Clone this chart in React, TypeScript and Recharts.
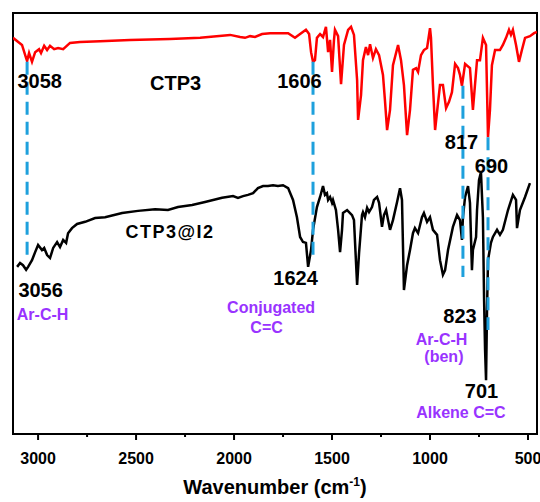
import { LineChart, Line, XAxis, YAxis, ReferenceLine, ReferenceArea, ReferenceDot } from "recharts"

const FONT = "Arial, 'Liberation Sans', sans-serif"
const PURPLE = "#9933FF"
const GUIDE = "#1EA0DC"

// CTP3 (red, upper trace)
const ctp3Wavenumber = [
  3128, 3082, 3061, 3056, 3046, 3031, 3015, 2995, 2985, 2969, 2954, 2939, 2918, 2898, 2872, 2837, 2786, 2684,
  2531, 2327, 2173, 2020, 1969, 1944, 1918, 1893, 1857, 1816, 1765, 1724, 1689, 1663, 1633, 1617, 1607, 1597,
  1587, 1577, 1561, 1546, 1531, 1520, 1510, 1500, 1490, 1485, 1469, 1454, 1439, 1418, 1403, 1388, 1372, 1367,
  1352, 1342, 1327, 1316, 1306, 1291, 1276, 1260, 1240, 1230, 1219, 1204, 1189, 1163, 1148, 1133, 1117, 1102,
  1087, 1071, 1061, 1046, 1031, 1015, 1000, 995, 985, 974, 964, 949, 934, 918, 903, 888, 872, 857, 847, 837,
  821, 796, 781, 760, 745, 730, 714, 704, 694, 684, 668, 643, 628, 612, 597, 587, 577, 561, 546, 531, 515, 490,
  469, 454,
]
const ctp3Transmittance = [
  94.1, 92.4, 89.3, 88.6, 90.5, 88.4, 90.7, 91.4, 90.5, 92.2, 91.2, 92.2, 91.4, 91.7, 91.4, 92.9, 93.1, 93.3,
  93.6, 93.8, 94.1, 94.8, 94.3, 94.1, 94.5, 94.3, 95.0, 95.2, 95.2, 95.2, 94.1, 95.0, 96.0, 95.0, 90.7, 88.4,
  88.8, 94.1, 95.0, 94.3, 96.7, 90.7, 93.6, 86.0, 93.6, 96.0, 94.5, 83.1, 92.4, 96.0, 96.7, 94.8, 84.1, 74.6,
  80.5, 88.8, 91.9, 90.0, 92.6, 89.3, 91.4, 90.0, 85.3, 79.3, 72.2, 77.0, 87.6, 92.4, 88.8, 82.9, 71.0, 77.0,
  86.5, 86.9, 86.0, 90.0, 91.2, 91.7, 96.4, 94.1, 82.9, 72.2, 76.5, 82.9, 82.9, 77.4, 78.9, 81.2, 87.9, 86.9,
  85.3, 82.7, 87.9, 86.9, 77.0, 88.8, 88.8, 94.1, 92.4, 70.5, 77.0, 87.6, 91.2, 91.2, 92.4, 94.1, 96.0, 94.8,
  96.0, 92.4, 88.4, 91.2, 94.1, 94.5, 95.2, 95.5,
]

// CTP3@I2 (black, lower trace)
const ctp3I2Wavenumber = [
  3107, 3092, 3077, 3061, 3051, 3031, 3015, 3000, 2980, 2969, 2954, 2939, 2923, 2903, 2888, 2872, 2857, 2847,
  2827, 2801, 2760, 2709, 2658, 2571, 2490, 2403, 2337, 2286, 2214, 2148, 2061, 2005, 1980, 1954, 1929, 1903,
  1878, 1852, 1827, 1801, 1776, 1750, 1724, 1699, 1679, 1663, 1648, 1633, 1622, 1607, 1597, 1577, 1561, 1546,
  1536, 1526, 1520, 1510, 1500, 1495, 1480, 1469, 1459, 1449, 1444, 1423, 1398, 1388, 1372, 1362, 1347, 1342,
  1332, 1321, 1311, 1296, 1286, 1270, 1260, 1245, 1235, 1224, 1214, 1204, 1189, 1168, 1153, 1143, 1133, 1117,
  1102, 1087, 1077, 1061, 1041, 1031, 1015, 1000, 985, 964, 949, 934, 923, 908, 883, 862, 847, 837, 832, 821,
  806, 796, 786, 781, 765, 760, 750, 740, 730, 724, 719, 714, 709, 704, 689, 679, 658, 643, 628, 602, 577, 561,
  556, 541, 515, 490,
]
const ctp3I2Transmittance = [
  39.7, 40.6, 40.1, 39.0, 39.7, 41.3, 43.2, 44.9, 43.7, 44.2, 42.5, 41.8, 44.2, 45.6, 44.4, 46.1, 45.4, 47.7,
  48.9, 49.9, 50.4, 51.3, 51.5, 52.5, 53.0, 53.4, 53.2, 53.9, 54.4, 55.1, 56.1, 56.5, 56.1, 56.5, 56.8, 57.2,
  58.4, 58.9, 58.9, 59.1, 58.9, 59.1, 58.4, 55.6, 51.5, 46.8, 45.6, 45.4, 39.7, 43.7, 48.5, 53.9, 56.3, 58.9,
  56.8, 57.2, 55.6, 56.3, 54.9, 55.6, 53.2, 48.5, 43.2, 48.5, 52.5, 53.2, 52.0, 50.8, 35.4, 43.0, 52.0, 52.7,
  51.5, 53.7, 52.7, 53.9, 55.6, 56.3, 54.9, 49.2, 52.0, 53.2, 50.8, 48.5, 50.8, 55.1, 58.4, 55.6, 34.2, 40.1,
  43.7, 47.7, 48.9, 47.7, 51.5, 52.5, 50.4, 51.5, 48.5, 47.3, 41.3, 37.8, 38.9, 43.7, 49.2, 52.0, 50.8, 46.1,
  51.5, 56.3, 58.9, 54.9, 38.9, 43.7, 46.8, 53.2, 60.3, 62.2, 51.5, 31.8, 20.0, 12.8, 29.5, 41.3, 45.4, 46.8,
  48.5, 47.3, 48.5, 53.2, 56.8, 55.6, 48.9, 53.2, 56.3, 59.6,
]

const majorTicks = [3000, 2500, 2000, 1500, 1000, 500]
const minorTicks = [2750, 2250, 1750, 1250, 750]

// dashed guide lines linking the two traces
const guideWavenumber = [3056, 1597, 832, 704]
const guideTop = [88.4, 88.4, 82.7, 70.5]
const guideBottom = [41.8, 42.5, 37.3, 24.7]

// peak labels and assignments
const notes = [
  { wn: 2992, t: 82.2, text: "3058", color: "#000", size: 20 },
  { wn: 2298, t: 81.7, text: "CTP3", color: "#000", size: 20 },
  { wn: 1666, t: 82.2, text: "1606", color: "#000", size: 20 },
  { wn: 839, t: 67.7, text: "817", color: "#000", size: 20 },
  { wn: 686, t: 62.0, text: "690", color: "#000", size: 20 },
  { wn: 2327, t: 46.6, text: "CTP3@I2", color: "#000", size: 18, spacing: 1.5 },
  { wn: 2987, t: 32.5, text: "3056", color: "#000", size: 20 },
  { wn: 2977, t: 27.1, text: "Ar-C-H", color: PURPLE, size: 16 },
  { wn: 1686, t: 35.4, text: "1624", color: "#000", size: 20 },
  { wn: 1811, t: 28.7, text: "Conjugated", color: PURPLE, size: 16 },
  { wn: 1834, t: 24.0, text: "C=C", color: PURPLE, size: 16 },
  { wn: 847, t: 26.4, text: "823", color: "#000", size: 20 },
  { wn: 941, t: 21.1, text: "Ar-C-H", color: PURPLE, size: 16 },
  { wn: 929, t: 17.1, text: "(ben)", color: PURPLE, size: 16 },
  { wn: 737, t: 8.6, text: "701", color: "#000", size: 20 },
  { wn: 842, t: 3.8, text: "Alkene C=C", color: PURPLE, size: 16 },
]

const ctp3Data = ctp3Wavenumber.map((wn, i) => ({ wn, t: ctp3Transmittance[i] }))
const ctp3I2Data = ctp3I2Wavenumber.map((wn, i) => ({ wn, t: ctp3I2Transmittance[i] }))

function WnTick(props: any) {
  const { x, y, payload } = props
  const major = majorTicks.includes(payload.value)
  return (
    <g>
      <line x1={x} x2={x} y1={y} y2={y + (major ? 6 : 3)} stroke="#000" strokeWidth={2} />
      {major && (
        <text x={x} y={y + 30} textAnchor="middle" fontFamily={FONT} fontWeight="bold" fontSize={16} fill="#000">
          {payload.value}
        </text>
      )}
    </g>
  )
}

function AxisTitle(props: any) {
  const { x, y, width } = props.viewBox
  return (
    <text x={x + width / 2} y={y + 60} textAnchor="middle" fontFamily={FONT} fontWeight="bold" fontSize={20} fill="#000">
      Wavenumber (cm
      <tspan dy={-8} fontSize={12}>-1</tspan>
      <tspan dy={8}>)</tspan>
    </text>
  )
}

export default function App() {
  return (
    <div style={{ width: 540, height: 502 }}>
      <style>{`body{margin:0}`}</style>
      <LineChart width={540} height={502} margin={{ top: 13, right: 3, bottom: 0, left: 13 }}>
        <XAxis
          type="number"
          dataKey="wn"
          domain={[454, 3128]}
          reversed
          allowDataOverflow
          ticks={[...majorTicks, ...minorTicks].sort((a, b) => b - a)}
          interval={0}
          tick={<WnTick />}
          tickLine={false}
          tickSize={0}
          tickMargin={0}
          axisLine={false}
          height={68}
          label={<AxisTitle />}
        />
        <YAxis type="number" domain={[0, 100]} hide allowDataOverflow />
        <ReferenceArea x1={454} x2={3128} y1={0} y2={100} fill="none" stroke="#000" strokeWidth={2} ifOverflow="visible" />
        <Line data={ctp3Data} dataKey="t" type="linear" stroke="#FF0000" strokeWidth={2.5} dot={false} isAnimationActive={false} />
        <Line data={ctp3I2Data} dataKey="t" type="linear" stroke="#000000" strokeWidth={2.5} dot={false} isAnimationActive={false} />
        {guideWavenumber.map((wn, i) => (
          <ReferenceLine
            key={`g${i}`}
            segment={[
              { x: wn, y: guideTop[i] },
              { x: wn, y: guideBottom[i] },
            ]}
            stroke={GUIDE}
            strokeWidth={3}
            strokeDasharray="13 7"
            ifOverflow="visible"
          />
        ))}
        {notes.map((n, i) => (
          <ReferenceDot
            key={`n${i}`}
            x={n.wn}
            y={n.t}
            r={0}
            fill="none"
            stroke="none"
            ifOverflow="visible"
            label={(p: any) => (
              <text
                x={p.viewBox.x}
                y={p.viewBox.y}
                textAnchor="middle"
                fontFamily={FONT}
                fontWeight="bold"
                fontSize={n.size}
                letterSpacing={n.spacing ?? 0}
                fill={n.color}
              >
                {n.text}
              </text>
            )}
          />
        ))}
      </LineChart>
    </div>
  )
}
